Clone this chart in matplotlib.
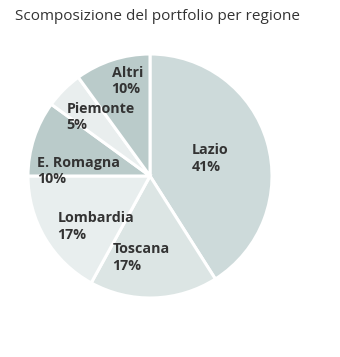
import matplotlib
matplotlib.use('Agg')
import matplotlib.pyplot as plt
import numpy as np

regions = ['Lazio', 'Toscana', 'Lombardia', 'E. Romagna', 'Piemonte', 'Altri']
shares = [41, 17, 17, 10, 5, 10]
colors = ['#cddada', '#dce5e4', '#e8eeee', '#bacbca', '#e9eeee', '#bacbca']
# label placement inside each wedge: fraction of radius and angle nudge (deg)
label_radius = [0.51, 0.67, 0.61, 0.59, 0.63, 0.80]
label_nudge = [0, -8, 12.5, 14, -5, -4.5]

fig = plt.figure(figsize=(3.4, 3.57), dpi=100)
fig.text(15 / 340, 1 - 17 / 357, 'Scomposizione del portfolio per regione',
         fontsize=11, family='Open Sans', color='#333333', va='center', ha='left')

ax = fig.add_axes([28 / 340, 59 / 357, 244 / 340, 244 / 357])
wedges, _ = ax.pie(shares, colors=colors, startangle=90, counterclock=False,
                   radius=1, wedgeprops=dict(edgecolor='white', linewidth=2.2))
ax.set_xlim(-1, 1)
ax.set_ylim(-1, 1)
ax.set_aspect('equal')

for wedge, name, share, r, nudge in zip(wedges, regions, shares, label_radius, label_nudge):
  mid = np.deg2rad((wedge.theta1 + wedge.theta2) / 2 + nudge)
  ax.text(r * np.cos(mid), r * np.sin(mid), f'{name}\n{share}%',
          ha='center', va='center', multialignment='left', fontsize=10.3,
          fontweight='bold', family='Open Sans', color='#333333', linespacing=1.25)

fig.savefig('out.png', dpi=100)
